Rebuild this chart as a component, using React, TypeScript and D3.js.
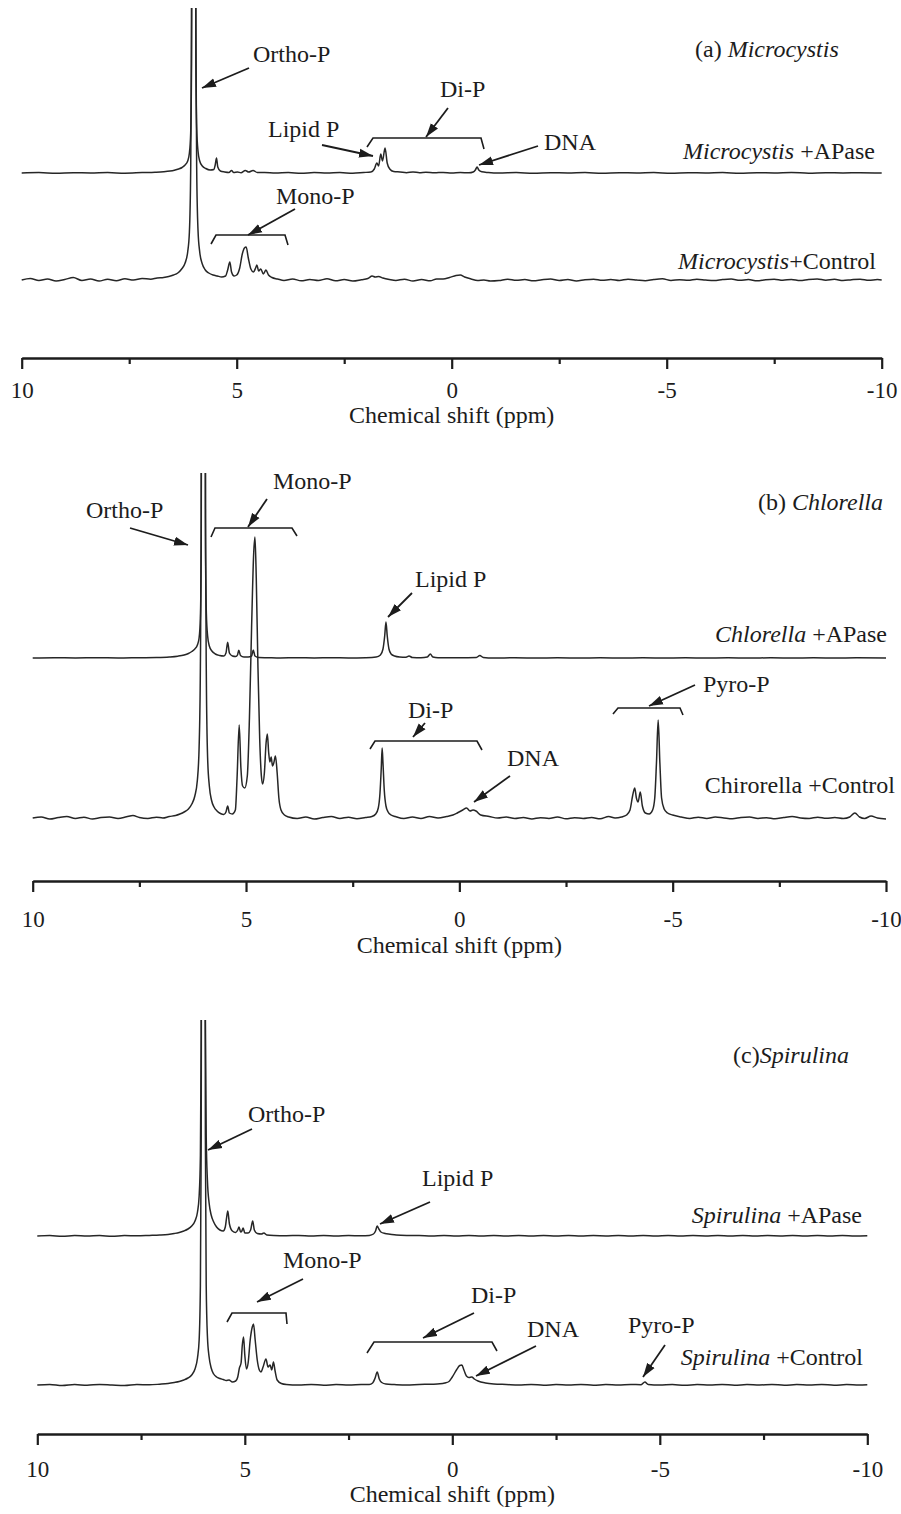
import React, { useEffect, useRef } from "react";
import * as d3 from "d3";

// [chemical shift (ppm), signal height above the trace baseline]
const microApase: [number, number][] = [
  [10, 0], [9.6, 0.4], [9.2, -0.2], [8.8, 0.3], [8.4, 0], [8, 0.4], [7.6, -0.2], [7.2, 0.4], [6.9, 0.8], [6.7, 1.3],
  [6.55, 2], [6.45, 2.8], [6.35, 4], [6.27, 5.5], [6.2, 8], [6.14, 12], [6.1, 20], [6.07, 40], [6.05, 110], [6.04, 400],
  [6.0, 1200], [5.96, 400], [5.95, 110], [5.93, 45], [5.9, 22], [5.86, 12], [5.8, 7], [5.72, 4.5], [5.62, 3], [5.53, 3.5],
  [5.5, 8], [5.47, 15], [5.44, 6], [5.38, 2], [5.28, 1], [5.18, 0.5], [5.12, 2.5], [5.07, 0.5], [4.98, 1], [4.9, 0.3],
  [4.8, 2.5], [4.72, 1], [4.62, 2.5], [4.52, 0.5], [4.35, 0.5], [4.1, 0], [3.8, 0.4], [3.5, -0.2], [3.2, 0.4], [2.9, 0],
  [2.6, 0.4], [2.3, -0.2], [2.05, 0.5], [1.88, 1], [1.8, 4], [1.74, 10], [1.7, 7], [1.65, 19], [1.61, 12], [1.55, 25],
  [1.5, 10], [1.44, 4], [1.35, 1.5], [1.2, 1], [1.05, 0.3], [0.9, 1], [0.75, 0.3], [0.6, 0.8], [0.4, 0.2], [0.2, 0.6],
  [0, 0], [-0.2, 0.4], [-0.4, 0.2], [-0.5, 1], [-0.55, 3], [-0.59, 6], [-0.63, 3], [-0.7, 1.2], [-0.85, 0.5], [-1.1, 0],
  [-1.5, 0.4], [-1.9, -0.2], [-2.3, 0.3], [-2.7, 0], [-3.1, 0.4], [-3.5, -0.2], [-3.9, 0.3], [-4.3, 0], [-4.7, 0.4],
  [-5.1, -0.2], [-5.5, 0.3], [-5.9, 0], [-6.3, 0.4], [-6.7, -0.2], [-7.1, 0.3], [-7.5, 0], [-7.9, 0.5], [-8.3, -0.2],
  [-8.7, 0.3], [-9.1, 0], [-9.5, 0.3], [-10, 0],
];

const microControl: [number, number][] = [
  [10, 0], [9.8, 1.5], [9.6, -0.5], [9.4, 1], [9.2, -1], [9.0, 0.5], [8.8, 2.5], [8.6, -0.5], [8.4, 1], [8.2, -1],
  [8.0, 0.8], [7.8, -0.8], [7.6, 1.2], [7.4, 0], [7.2, 1.5], [7.0, 0.8], [6.85, 2], [6.7, 2.5], [6.58, 3.5], [6.47, 5],
  [6.37, 7], [6.28, 11], [6.2, 17], [6.14, 28], [6.1, 48], [6.07, 110], [6.05, 260], [6.04, 600], [6.0, 1500], [5.96, 600],
  [5.95, 260], [5.93, 110], [5.9, 50], [5.86, 28], [5.8, 16], [5.73, 10], [5.65, 7], [5.55, 5], [5.45, 4], [5.35, 3],
  [5.26, 4], [5.21, 10], [5.16, 18], [5.12, 8], [5.06, 4], [5.0, 5], [4.93, 12], [4.87, 26], [4.82, 32], [4.78, 33],
  [4.73, 22], [4.67, 11], [4.61, 8], [4.56, 12], [4.53, 15], [4.49, 9], [4.44, 11], [4.38, 6], [4.32, 10], [4.26, 5],
  [4.18, 2.5], [4.05, 1], [3.9, -0.5], [3.7, 1], [3.5, -0.8], [3.3, 0.5], [3.1, -0.5], [2.9, 1.2], [2.7, -0.8], [2.5, 0.5],
  [2.3, -1], [2.1, 0.3], [1.95, 1.5], [1.85, 4], [1.78, 3], [1.7, 3.5], [1.6, 2], [1.45, 0.5], [1.3, -0.5], [1.1, 0.8],
  [0.9, -1], [0.7, 0.5], [0.5, -0.8], [0.35, 1], [0.2, 1], [0.05, 2.5], [-0.1, 4.5], [-0.2, 5], [-0.3, 3], [-0.45, 1],
  [-0.6, -0.5], [-0.75, 0], [-0.9, -1], [-1.1, -0.5], [-1.3, 0.8], [-1.5, -0.3], [-1.7, 0.5], [-1.9, -0.8], [-2.1, 0.3],
  [-2.3, 1], [-2.5, -0.5], [-2.7, 0.5], [-2.9, -1], [-3.1, 0.2], [-3.3, 0.8], [-3.5, -0.3], [-3.7, 0.5], [-3.9, -0.5],
  [-4.1, 0.8], [-4.3, 0], [-4.5, -0.8], [-4.7, 0.5], [-4.9, 1.2], [-5.1, -0.5], [-5.3, 0.3], [-5.5, -0.3], [-5.7, 0.8],
  [-5.9, 0], [-6.1, -0.6], [-6.3, 0.4], [-6.5, 1], [-6.7, -0.3], [-6.9, 0.5], [-7.1, -0.8], [-7.3, 0.3], [-7.5, 0.8],
  [-7.7, -0.3], [-7.9, 0.6], [-8.1, -0.5], [-8.3, 0.5], [-8.5, 1], [-8.7, -0.2], [-8.9, 0.7], [-9.1, -0.5], [-9.3, 0.3],
  [-9.5, 0.8], [-9.7, -0.3], [-9.9, 0.4], [-10, 0],
];

const chlorellaApase: [number, number][] = [
  [10, 0], [9.5, 0.3], [9, 0], [8.5, 0.3], [8, 0], [7.5, 0.3], [7.1, 0.5], [6.8, 1], [6.6, 1.8], [6.45, 3], [6.35, 4.5],
  [6.27, 6.5], [6.2, 9], [6.14, 13], [6.1, 20], [6.07, 40], [6.05, 110], [6.04, 400], [6.0, 1200], [5.96, 400], [5.95, 110],
  [5.93, 45], [5.9, 22], [5.86, 12], [5.8, 7], [5.72, 4], [5.62, 2.5], [5.52, 2], [5.47, 5], [5.43, 15.7], [5.39, 5],
  [5.32, 2], [5.24, 1.5], [5.2, 3], [5.17, 7.7], [5.13, 2.5], [5.05, 1], [4.95, 1], [4.87, 2], [4.83, 8], [4.79, 2],
  [4.7, 0.5], [4.5, 0.3], [4.2, 0], [3.8, 0.3], [3.4, 0], [3.0, 0.3], [2.6, 0], [2.2, 0.3], [1.95, 1], [1.85, 3],
  [1.79, 9], [1.75, 22], [1.72, 36], [1.69, 22], [1.65, 9], [1.6, 4], [1.52, 2], [1.4, 1], [1.25, 0.8], [1.18, 2],
  [1.1, 0.5], [0.9, 0.3], [0.75, 1], [0.68, 4], [0.62, 1], [0.5, 0.3], [0.2, 0.2], [-0.2, 0.3], [-0.4, 0.5], [-0.48, 2.5],
  [-0.56, 0.5], [-0.8, 0], [-1.3, 0.2], [-1.8, 0], [-2.3, 0.2], [-2.8, 0], [-3.3, 0.2], [-3.8, 0], [-4.3, 0.2], [-4.8, 0],
  [-5.3, 0.2], [-5.8, 0], [-6.3, 0.2], [-6.8, 0], [-7.3, 0.2], [-7.8, 0], [-8.3, 0.2], [-8.8, 0], [-9.3, 0.2], [-10, 0],
];

const chlorellaControl: [number, number][] = [
  [10, 0], [9.8, 1], [9.6, -1], [9.4, 0.5], [9.2, 1.5], [9.0, -0.5], [8.8, 0.8], [8.6, -1], [8.4, 0.5], [8.2, 1],
  [8.0, -0.5], [7.8, 1.2], [7.65, 2.5], [7.5, 0.5], [7.3, -0.5], [7.1, 0.8], [6.95, 0], [6.8, 1.5], [6.65, 2.5], [6.55, 4],
  [6.45, 6], [6.35, 9], [6.27, 14], [6.2, 22], [6.14, 38], [6.1, 70], [6.07, 150], [6.05, 300], [6.04, 700], [6.0, 2000],
  [5.96, 700], [5.95, 300], [5.93, 140], [5.9, 60], [5.86, 32], [5.81, 18], [5.75, 11], [5.68, 7], [5.6, 4.5], [5.52, 3.5],
  [5.47, 6], [5.43, 12], [5.39, 5], [5.32, 4], [5.25, 8], [5.21, 40], [5.16, 93], [5.12, 50], [5.08, 32], [5.03, 30],
  [4.97, 42], [4.92, 100], [4.87, 190], [4.82, 265], [4.79, 281], [4.76, 240], [4.72, 150], [4.68, 80], [4.64, 42],
  [4.61, 34], [4.57, 45], [4.53, 75], [4.5, 84], [4.47, 66], [4.44, 56], [4.41, 61], [4.38, 52], [4.35, 55], [4.31, 62],
  [4.27, 45], [4.23, 20], [4.18, 8], [4.1, 3], [4.0, 1], [3.8, -0.5], [3.6, 1], [3.4, -1], [3.2, 0.5], [3.0, 1.5],
  [2.8, -0.5], [2.6, 0.8], [2.4, -0.8], [2.2, 0.5], [2.05, 1.5], [1.96, 4], [1.9, 10], [1.86, 25], [1.83, 50], [1.81, 70],
  [1.79, 55], [1.76, 28], [1.72, 12], [1.67, 6], [1.6, 3], [1.5, 1.5], [1.3, -0.5], [1.1, 1], [0.9, -0.5], [0.7, 1.5],
  [0.5, 0], [0.3, 1.5], [0.15, 3], [0.05, 5], [-0.08, 8], [-0.17, 10], [-0.25, 7], [-0.32, 8], [-0.39, 7], [-0.5, 3],
  [-0.7, 1.5], [-0.9, 0], [-1.1, 1], [-1.3, -0.5], [-1.5, 0.5], [-1.7, -1], [-1.9, 0.3], [-2.1, -0.5], [-2.3, 1],
  [-2.5, -0.8], [-2.7, 0.3], [-2.9, -0.5], [-3.1, 0.5], [-3.3, -0.8], [-3.5, 1.5], [-3.65, 0], [-3.8, 1], [-3.92, 3],
  [-4.0, 8], [-4.06, 22], [-4.11, 30], [-4.15, 20], [-4.19, 16], [-4.24, 26], [-4.29, 12], [-4.36, 5], [-4.45, 4],
  [-4.53, 8], [-4.58, 20], [-4.62, 55], [-4.66, 98], [-4.7, 55], [-4.74, 20], [-4.8, 9], [-4.88, 5], [-5.0, 3], [-5.2, 1],
  [-5.4, -0.5], [-5.6, 0.8], [-5.8, -0.5], [-6.0, 1], [-6.2, 0], [-6.4, -0.8], [-6.6, 0.5], [-6.8, 1], [-7.0, -0.5],
  [-7.2, 0.3], [-7.4, -0.8], [-7.6, 0.5], [-7.8, 1.5], [-8.0, 0], [-8.2, -0.5], [-8.4, 0.8], [-8.6, -0.3], [-8.8, 0.5],
  [-9.0, -0.5], [-9.15, 1], [-9.27, 5], [-9.38, 1], [-9.5, -0.5], [-9.65, 2], [-9.8, 0], [-10, -1],
];

const spirulinaApase: [number, number][] = [
  [10, 0], [9.7, 0.5], [9.4, -0.3], [9.1, 0.5], [8.8, 0], [8.5, 0.4], [8.2, -0.3], [7.9, 0.5], [7.6, 0.2], [7.3, 0.6],
  [7.05, 1], [6.85, 1.6], [6.7, 2.5], [6.58, 3.5], [6.47, 5], [6.37, 7], [6.28, 10], [6.2, 15], [6.14, 24], [6.1, 40],
  [6.07, 80], [6.05, 200], [6.04, 500], [6.0, 1500], [5.96, 500], [5.95, 220], [5.93, 100], [5.9, 55], [5.86, 33],
  [5.81, 21], [5.75, 14], [5.68, 9], [5.6, 6], [5.52, 5], [5.47, 9], [5.44, 18], [5.41, 25], [5.37, 12], [5.3, 5],
  [5.22, 3.5], [5.17, 6], [5.14, 9], [5.1, 4], [5.07, 5], [5.04, 8], [5.0, 3], [4.92, 3], [4.86, 6], [4.81, 15], [4.77, 6],
  [4.7, 2.5], [4.6, 2], [4.54, 3], [4.47, 1], [4.3, 0.5], [4.0, 0.3], [3.7, 0.6], [3.4, 0.1], [3.1, 0.5], [2.8, 0],
  [2.5, 0.5], [2.2, 0.2], [2.0, 0.6], [1.9, 2], [1.85, 5], [1.81, 10], [1.77, 7], [1.72, 4], [1.62, 2.5], [1.5, 1.8],
  [1.35, 1], [1.1, 0.6], [0.8, 0.5], [0.5, 0], [0.2, 0.4], [-0.1, 0], [-0.4, 0.4], [-0.7, 0], [-1.0, 0.4], [-1.3, 0],
  [-1.6, 0.4], [-1.9, 0], [-2.2, 0.4], [-2.5, 0], [-2.8, 0.5], [-3.1, 0], [-3.4, 0.4], [-3.7, 0.1], [-4.0, 0.5], [-4.3, 0],
  [-4.6, 0.4], [-4.9, 0], [-5.2, 0.4], [-5.5, 0], [-5.8, 0.4], [-6.1, 0.1], [-6.4, 0.5], [-6.7, 0], [-7.0, 0.4], [-7.3, 0],
  [-7.6, 0.4], [-7.9, 0.1], [-8.2, 0.5], [-8.5, 0], [-8.8, 0.4], [-9.1, 0], [-9.4, 0.4], [-9.7, 0], [-10, 0.2],
];

const spirulinaControl: [number, number][] = [
  [10, 0], [9.7, 0.6], [9.4, -0.5], [9.1, 0.5], [8.8, -0.3], [8.5, 0.6], [8.2, 0], [7.9, -0.5], [7.6, 0.5], [7.3, 0.2],
  [7.05, 0.8], [6.85, 1.5], [6.7, 2.5], [6.58, 3.5], [6.47, 5], [6.37, 7], [6.28, 10], [6.2, 16], [6.14, 27], [6.1, 45],
  [6.07, 100], [6.05, 250], [6.04, 600], [6.0, 1500], [5.96, 600], [5.95, 250], [5.93, 100], [5.9, 48], [5.86, 28],
  [5.81, 17], [5.75, 11], [5.68, 8], [5.6, 6.5], [5.52, 5.5], [5.45, 4.5], [5.38, 5], [5.3, 3], [5.22, 4], [5.17, 8],
  [5.13, 17], [5.09, 22], [5.06, 40], [5.03, 48], [5.0, 30], [4.96, 16], [4.92, 22], [4.87, 45], [4.82, 58], [4.79, 61],
  [4.75, 45], [4.7, 25], [4.65, 15], [4.61, 13], [4.56, 18], [4.49, 26], [4.44, 18], [4.39, 20], [4.35, 15], [4.31, 23],
  [4.27, 14], [4.22, 5], [4.12, 1.5], [4.0, 0.5], [3.7, 0], [3.4, 0.6], [3.1, -0.3], [2.8, 0.5], [2.5, 0], [2.2, 0.5],
  [2.0, 0.6], [1.92, 2], [1.86, 7], [1.81, 13], [1.76, 6], [1.7, 2.5], [1.6, 1], [1.4, 0.5], [1.1, 0], [0.8, 0.5],
  [0.5, 0.8], [0.3, 1.2], [0.18, 2], [0.08, 3.5], [0, 8], [-0.1, 15], [-0.18, 19.5], [-0.23, 20], [-0.28, 15],
  [-0.34, 9], [-0.4, 7.5], [-0.47, 8], [-0.53, 6], [-0.62, 4], [-0.8, 2], [-1.0, 1], [-1.3, 0.5], [-1.6, 0], [-1.9, 0.5],
  [-2.2, -0.2], [-2.5, 0.4], [-2.8, 0], [-3.1, 0.5], [-3.4, -0.2], [-3.7, 0.4], [-4.0, 0], [-4.3, 0.5], [-4.55, 0.3],
  [-4.64, 3], [-4.72, 0.5], [-5.0, 0], [-5.3, 0.4], [-5.6, -0.2], [-5.9, 0.4], [-6.2, 0], [-6.5, 0.5], [-6.8, -0.2],
  [-7.1, 0.4], [-7.4, 0], [-7.7, 0.5], [-8.0, -0.2], [-8.3, 0.4], [-8.6, 0], [-8.9, 0.5], [-9.2, -0.2], [-9.5, 0.4],
  [-9.8, 0], [-10, 0.2],
];

const majorTicks = [10, 5, 0, -5, -10];
const minorTicks = [7.5, 2.5, -2.5, -7.5];
const axisTitle = "Chemical shift (ppm)";

const FONT = "'Liberation Serif', 'Times New Roman', serif";
const INK = "#1c1c1c";

// text parts: [string, italic]
type Txt = { x: number; y: number; anchor: string; parts: [string, boolean][] };
type Arrow = [number, number, number, number];
type Bracket = [number, number][];

const panels = [
  {
    x10: 21.7, xm10: 881.7, axisY: 358, clipTop: 8, labelPad: 13, titleY: 423,
    traces: [{ data: microApase, base: 173 }, { data: microControl, base: 280 }],
    texts: [
      { x: 695, y: 57, anchor: "start", parts: [["(a) ", false], ["Microcystis", true]] },
      { x: 875, y: 159, anchor: "end", parts: [["Microcystis", true], [" +APase", false]] },
      { x: 876, y: 269, anchor: "end", parts: [["Microcystis", true], ["+Control", false]] },
      { x: 253, y: 62, anchor: "start", parts: [["Ortho-P", false]] },
      { x: 440, y: 97, anchor: "start", parts: [["Di-P", false]] },
      { x: 268, y: 137, anchor: "start", parts: [["Lipid P", false]] },
      { x: 544, y: 150, anchor: "start", parts: [["DNA", false]] },
      { x: 276, y: 204, anchor: "start", parts: [["Mono-P", false]] },
    ] as Txt[],
    arrows: [
      [249, 68, 202, 88], [448, 108, 426, 137], [322, 145, 373, 156], [538, 146, 479, 165], [295, 209, 248, 235],
    ] as Arrow[],
    brackets: [
      [[367, 147], [373, 138], [481, 138], [484, 149]],
      [[211, 244], [216, 235], [285, 235], [288, 245]],
    ] as Bracket[],
  },
  {
    x10: 32.7, xm10: 886, axisY: 881, clipTop: 473, labelPad: 19, titleY: 953,
    traces: [{ data: chlorellaApase, base: 658 }, { data: chlorellaControl, base: 818 }],
    texts: [
      { x: 883, y: 510, anchor: "end", parts: [["(b) ", false], ["Chlorella", true]] },
      { x: 887, y: 642, anchor: "end", parts: [["Chlorella", true], [" +APase", false]] },
      { x: 895, y: 793, anchor: "end", parts: [["Chirorella +Control", false]] },
      { x: 86, y: 518, anchor: "start", parts: [["Ortho-P", false]] },
      { x: 273, y: 489, anchor: "start", parts: [["Mono-P", false]] },
      { x: 415, y: 587, anchor: "start", parts: [["Lipid P", false]] },
      { x: 408, y: 718, anchor: "start", parts: [["Di-P", false]] },
      { x: 507, y: 766, anchor: "start", parts: [["DNA", false]] },
      { x: 703, y: 692, anchor: "start", parts: [["Pyro-P", false]] },
    ] as Txt[],
    arrows: [
      [130, 528, 188, 545], [267, 499, 248, 527], [412, 593, 388, 617], [425, 723, 413, 737], [510, 776, 474, 802],
      [695, 685, 649, 706],
    ] as Arrow[],
    brackets: [
      [[211, 537], [215, 528], [292, 528], [297, 536]],
      [[370, 749], [375, 741], [477, 741], [482, 750]],
      [[613, 714], [618, 708], [680, 708], [683, 715]],
    ] as Bracket[],
  },
  {
    x10: 37.3, xm10: 867.3, axisY: 1434, clipTop: 1020, labelPad: 16, titleY: 1502,
    traces: [{ data: spirulinaApase, base: 1236 }, { data: spirulinaControl, base: 1385 }],
    texts: [
      { x: 733, y: 1063, anchor: "start", parts: [["(c)", false], ["Spirulina", true]] },
      { x: 862, y: 1223, anchor: "end", parts: [["Spirulina", true], [" +APase", false]] },
      { x: 863, y: 1365, anchor: "end", parts: [["Spirulina", true], [" +Control", false]] },
      { x: 248, y: 1122, anchor: "start", parts: [["Ortho-P", false]] },
      { x: 422, y: 1186, anchor: "start", parts: [["Lipid P", false]] },
      { x: 283, y: 1268, anchor: "start", parts: [["Mono-P", false]] },
      { x: 471, y: 1303, anchor: "start", parts: [["Di-P", false]] },
      { x: 527, y: 1337, anchor: "start", parts: [["DNA", false]] },
      { x: 628, y: 1333, anchor: "start", parts: [["Pyro-P", false]] },
    ] as Txt[],
    arrows: [
      [252, 1129, 208, 1150], [430, 1202, 380, 1224], [303, 1279, 257, 1302], [474, 1313, 423, 1338],
      [536, 1346, 476, 1376], [665, 1345, 643, 1377],
    ] as Arrow[],
    brackets: [
      [[227, 1322], [232, 1313], [286, 1313], [287, 1324]],
      [[367, 1353], [374, 1342], [492, 1342], [497, 1351]],
    ] as Bracket[],
  },
];

export default function App() {
  const ref = useRef<SVGSVGElement>(null);

  useEffect(() => {
    const svg = d3.select(ref.current);
    svg.selectAll("*").remove();

    const defs = svg.append("defs");
    defs.append("marker")
      .attr("id", "head")
      .attr("markerUnits", "userSpaceOnUse")
      .attr("markerWidth", 15)
      .attr("markerHeight", 10)
      .attr("refX", 14)
      .attr("refY", 5)
      .attr("orient", "auto")
      .append("path")
      .attr("d", "M0,0.5 L14,5 L0,9.5 Z")
      .attr("fill", INK);

    panels.forEach((p, i) => {
      const x = d3.scaleLinear().domain([10, -10]).range([p.x10, p.xm10]);

      defs.append("clipPath").attr("id", `clip${i}`)
        .append("rect")
        .attr("x", 0).attr("y", p.clipTop)
        .attr("width", 901).attr("height", p.axisY - p.clipTop);

      const g = svg.append("g");

      // spectra
      p.traces.forEach(t => {
        const y = d3.scaleLinear().domain([0, 100]).range([t.base, t.base - 100]);
        const line = d3.line<[number, number]>()
          .x(d => x(d[0]))
          .y(d => y(d[1]))
          .curve(d3.curveMonotoneX);
        g.append("path")
          .datum(t.data)
          .attr("clip-path", `url(#clip${i})`)
          .attr("d", line)
          .attr("fill", "none")
          .attr("stroke", "#262626")
          .attr("stroke-width", 1.5)
          .attr("stroke-linejoin", "round");
      });

      // x axis
      const major = g.append("g")
        .attr("transform", `translate(0, ${p.axisY})`)
        .call(d3.axisBottom(x).tickValues(majorTicks).tickSize(11).tickSizeOuter(0)
          .tickPadding(p.labelPad).tickFormat(d => String(d)));
      major.select(".domain").attr("stroke", INK).attr("stroke-width", 2.4);
      major.selectAll(".tick line").attr("stroke", INK).attr("stroke-width", 2.2);
      major.selectAll(".tick text")
        .attr("font-family", FONT).attr("font-size", 23).attr("fill", INK);

      const minor = g.append("g")
        .attr("transform", `translate(0, ${p.axisY})`)
        .call(d3.axisBottom(x).tickValues(minorTicks).tickSize(6).tickSizeOuter(0).tickFormat(() => ""));
      minor.select(".domain").remove();
      minor.selectAll(".tick line").attr("stroke", INK).attr("stroke-width", 2.2);

      g.append("text")
        .attr("x", (p.x10 + p.xm10) / 2)
        .attr("y", p.titleY)
        .attr("text-anchor", "middle")
        .attr("font-family", FONT)
        .attr("font-size", 24)
        .attr("fill", INK)
        .text(axisTitle);

      // labels
      p.texts.forEach(t => {
        const txt = g.append("text")
          .attr("x", t.x).attr("y", t.y)
          .attr("text-anchor", t.anchor)
          .attr("font-family", FONT)
          .attr("font-size", 24)
          .attr("fill", INK);
        t.parts.forEach(([s, it]) => {
          txt.append("tspan").attr("font-style", it ? "italic" : "normal").text(s);
        });
      });

      // arrows
      p.arrows.forEach(a => {
        g.append("line")
          .attr("x1", a[0]).attr("y1", a[1])
          .attr("x2", a[2]).attr("y2", a[3])
          .attr("stroke", INK)
          .attr("stroke-width", 1.8)
          .attr("marker-end", "url(#head)");
      });

      // brackets
      p.brackets.forEach(b => {
        g.append("path")
          .attr("d", d3.line()(b as [number, number][]))
          .attr("fill", "none")
          .attr("stroke", INK)
          .attr("stroke-width", 1.6);
      });
    });
  }, []);

  return (
    <svg
      ref={ref}
      width={901}
      height={1514}
      style={{ position: "fixed", left: 0, top: 0, background: "#fff" }}
    />
  );
}
